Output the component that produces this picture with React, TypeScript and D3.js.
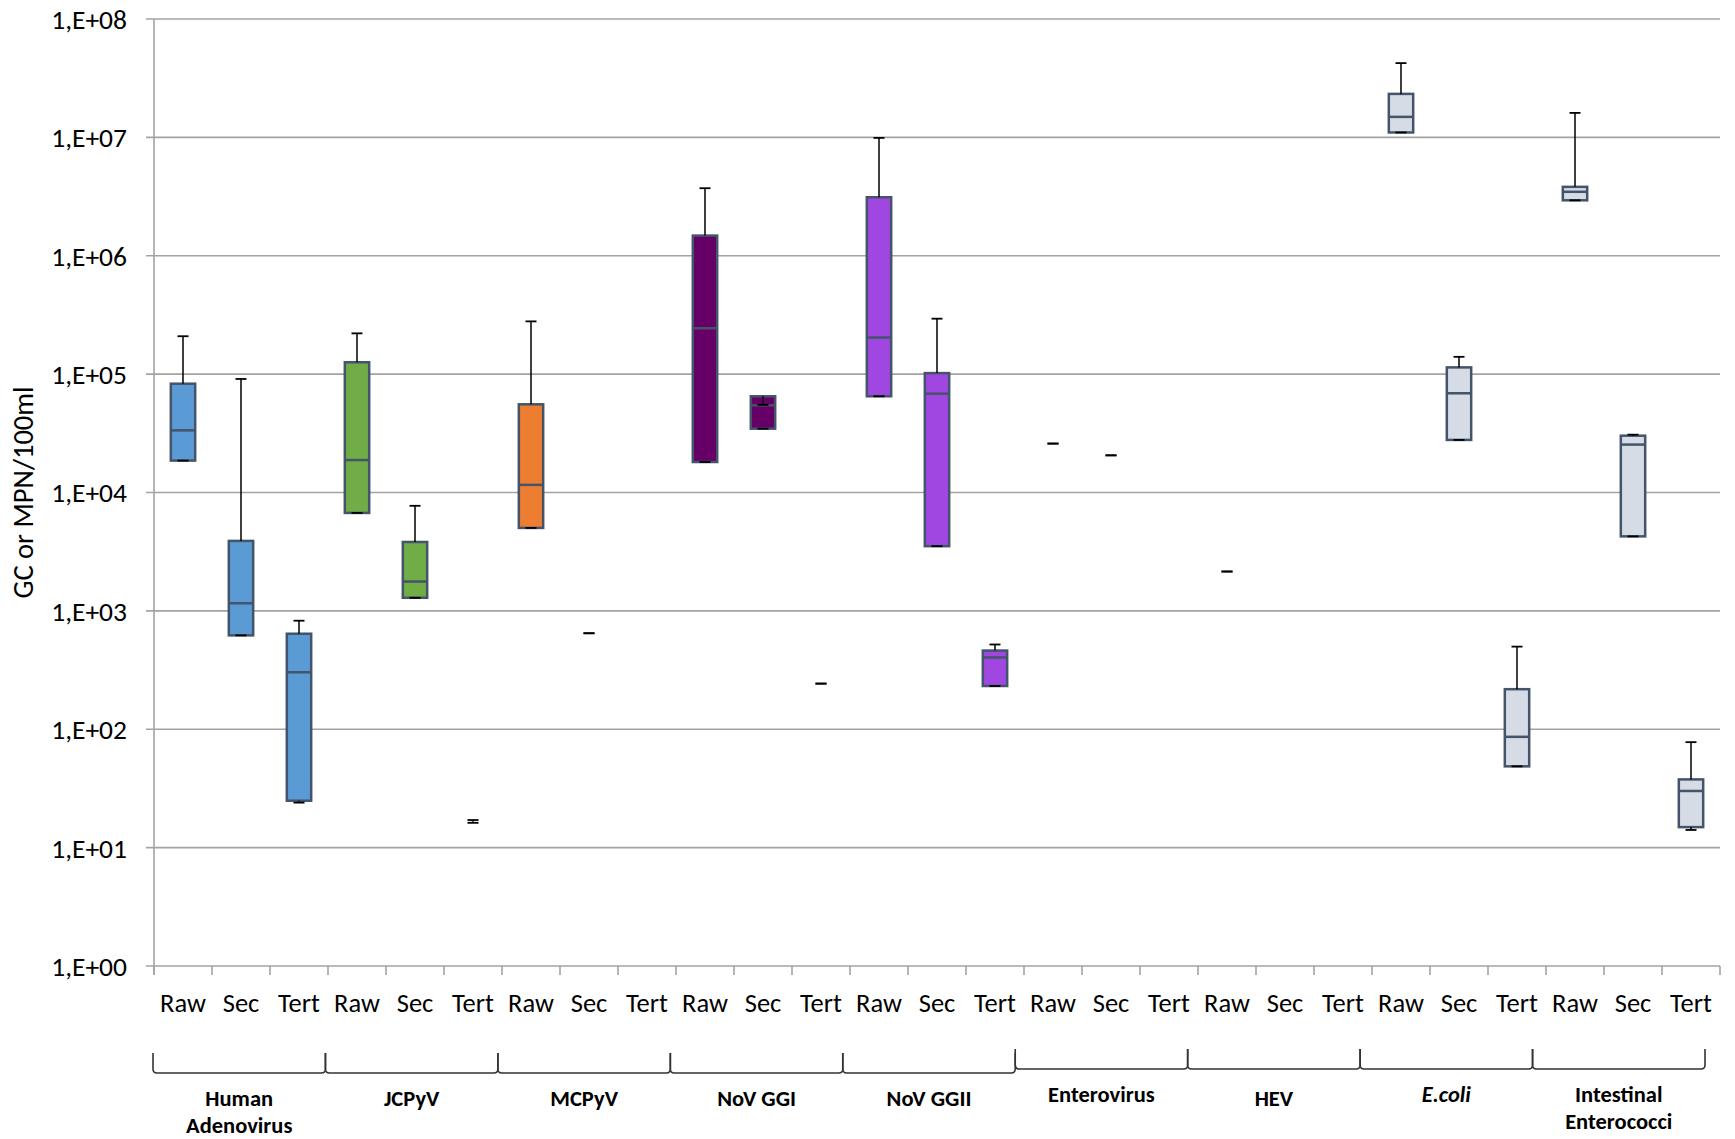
import React from "react";
import * as d3 from "d3";

const groups = ["Human Adenovirus", "JCPyV", "MCPyV", "NoV GGI", "NoV GGII", "Enterovirus", "HEV", "E.coli", "Intestinal Enterococci"];
const groupLines = [["Human", "Adenovirus"], ["JCPyV"], ["MCPyV"], ["NoV GGI"], ["NoV GGII"], ["Enterovirus"], ["HEV"], ["E.coli"], ["Intestinal", "Enterococci"]];
const italicGroups = ["E.coli"];
const stages = ["Raw", "Sec", "Tert"];
const groupColors = ["#5B9BD5", "#70AD47", "#ED7D31", "#660066", "#A047E2", "#A047E2", "#A047E2", "#D6DCE5", "#D6DCE5"];

const maxVals = [2.09e5, 9.1e4, 826, 2.21e5, 7.72e3, 17.1, 2.79e5, 647, null, 3.72e6, 5.5e4, 243, 9.9e6, 2.94e5, 520, 2.59e4, 2.06e4, null, 2.15e3, null, null, 4.24e7, 1.4e5, 499, 1.61e7, 3.08e4, 77.8];
const q3Vals = [8.3e4, 3.9e3, 641, 1.26e5, 3.82e3, 16.6, 5.56e4, 647, null, 1.48e6, 6.5e4, 243, 3.12e6, 1.02e5, 462, 2.59e4, 2.06e4, null, 2.15e3, null, null, 2.33e7, 1.14e5, 218, 3.82e6, 3.02e4, 37.7];
const medVals = [3.35e4, 1.16e3, 303, 1.88e4, 1.77e3, 16.6, 1.16e4, 647, null, 2.44e5, 5.45e4, 243, 2.04e5, 6.84e4, 404, 2.59e4, 2.06e4, null, 2.15e3, null, null, 1.49e7, 6.89e4, 86.3, 3.47e6, 2.54e4, 30.1];
const q1Vals = [1.86e4, 621, 24.9, 6.72e3, 1.29e3, 16.6, 5.02e3, 647, null, 1.81e4, 3.46e4, 243, 6.5e4, 3.52e3, 232, 2.59e4, 2.06e4, null, 2.15e3, null, null, 1.1e7, 2.78e4, 48.6, 2.94e6, 4.26e3, 14.9];
const minVals = [1.86e4, 621, 24.0, 6.72e3, 1.29e3, 16.2, 5.02e3, 647, null, 1.81e4, 3.46e4, 243, 6.5e4, 3.52e3, 232, 2.59e4, 2.06e4, null, 2.15e3, null, null, 1.1e7, 2.78e4, 48.6, 2.94e6, 4.26e3, 14.1];
const yTicks = [1, 10, 100, 1e3, 1e4, 1e5, 1e6, 1e7, 1e8];
const yTitle = "GC or MPN/100ml";

const W = 1735, H = 1139;
const left = 154, right = 1720, top = 19, bottom = 966;
const FONT = "Carlito, Lato, 'Open Sans', sans-serif";

export default function App() {
  const cats = d3.range(groups.length * stages.length);
  const x = d3.scaleBand<number>().domain(cats).range([left, right]).padding(0);
  const gx = d3.scaleBand<number>().domain(d3.range(groups.length)).range([153, 1705]).padding(0);
  const y = d3.scaleLog().domain([1, 1e8]).range([bottom, top]);
  const bw = x.bandwidth();
  const boxW = bw * 0.42;
  const capW = 11;
  const fmt = (v: number) => `1,E+${String(Math.round(Math.log10(v))).padStart(2, "0")}`;

  const lowered = (g: number) => g < 5;
  const bracketTop = (g: number) => (lowered(g) ? 1053 : 1049);
  const bracketBot = (g: number) => (lowered(g) ? 1073 : 1069);
  const labelY = (g: number) => (lowered(g) || g === 6 ? 1106 : 1102);

  return (
    <svg width={W} height={H} style={{ position: "absolute", left: 0, top: 0, background: "#fff" }} fontFamily={FONT}>
      {yTicks.map((t) => (
        <g key={t}>
          <line x1={left - 8} x2={right} y1={y(t)} y2={y(t)} stroke="#A3A3A3" strokeWidth={1.6} />
          <text x={127} y={y(t)} dy="0.36em" textAnchor="end" fontSize={27.5} fill="#000">{fmt(t)}</text>
        </g>
      ))}
      <line x1={left} x2={left} y1={top} y2={bottom + 9} stroke="#A3A3A3" strokeWidth={1.6} />
      {d3.range(cats.length + 1).map((i) => {
        const xx = left + i * bw;
        return <line key={i} x1={xx} x2={xx} y1={bottom} y2={bottom + 9} stroke="#A3A3A3" strokeWidth={1.6} />;
      })}
      {cats.map((c) => (
        <text key={c} x={(x(c) as number) + bw / 2} y={1012} textAnchor="middle" fontSize={26.5} fill="#000">
          {stages[c % stages.length]}
        </text>
      ))}
      {cats.map((c) => {
        const mx = maxVals[c], q3 = q3Vals[c], md = medVals[c], q1 = q1Vals[c], mn = minVals[c];
        if (mx == null || q3 == null || md == null || q1 == null || mn == null) return null;
        const cx = (x(c) as number) + bw / 2;
        const color = groupColors[Math.floor(c / stages.length)];
        const hasBox = q3 !== q1;
        return (
          <g key={c}>
            {hasBox && (
              <rect x={cx - boxW / 2} y={y(q3)} width={boxW} height={y(q1) - y(q3)} fill={color} stroke="#44546A" strokeWidth={2.5} />
            )}
            {hasBox && <line x1={cx - boxW / 2} x2={cx + boxW / 2} y1={y(md)} y2={y(md)} stroke="#44546A" strokeWidth={2.5} />}
            <line x1={cx} x2={cx} y1={y(q3)} y2={y(mx)} stroke="#000" strokeWidth={1.5} />
            <line x1={cx - capW / 2} x2={cx + capW / 2} y1={y(mx)} y2={y(mx)} stroke="#000" strokeWidth={1.8} />
            <line x1={cx} x2={cx} y1={y(q1)} y2={y(mn)} stroke="#000" strokeWidth={1.5} />
            <line x1={cx - capW / 2} x2={cx + capW / 2} y1={y(mn)} y2={y(mn)} stroke="#000" strokeWidth={1.8} />
          </g>
        );
      })}
      <text transform={`translate(33,${(top + bottom) / 2}) rotate(-90)`} textAnchor="middle" fontSize={28.5} fill="#000">{yTitle}</text>
      {groups.map((g, gi) => {
        const x0 = gx(gi) as number;
        const x1 = x0 + gx.bandwidth();
        const t = bracketTop(gi), b = bracketBot(gi), r = 4;
        const p = `M${x0},${t} L${x0},${b - r} Q${x0},${b} ${x0 + r},${b} L${x1 - r},${b} Q${x1},${b} ${x1},${b - r} L${x1},${t}`;
        const lines = groupLines[gi];
        const italic = italicGroups.includes(g);
        const cx = (x0 + x1) / 2;
        return (
          <g key={g}>
            <path d={p} fill="none" stroke="#333" strokeWidth={1.6} />
            <text x={cx} y={labelY(gi)} textAnchor="middle" fontSize={22.5} fontWeight="bold" fontStyle={italic ? "italic" : "normal"} fill="#000">
              {lines.map((l, li) => (
                <tspan key={li} x={cx} dy={li === 0 ? 0 : 27}>{l}</tspan>
              ))}
            </text>
          </g>
        );
      })}
    </svg>
  );
}
